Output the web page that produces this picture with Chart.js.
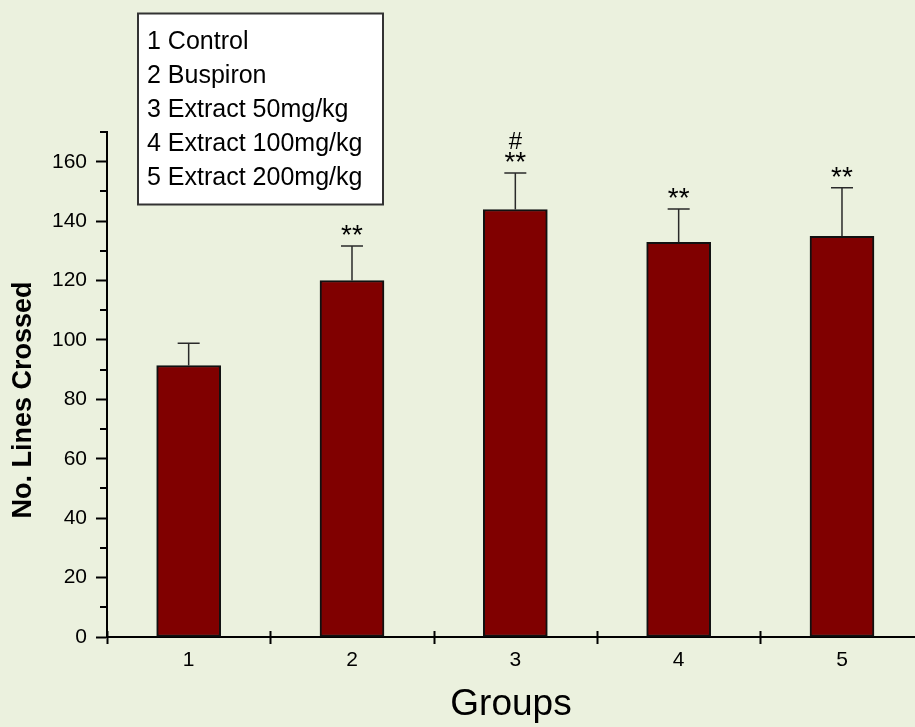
<!DOCTYPE html>
<html>
<head>
<meta charset="utf-8">
<script src="https://cdn.jsdelivr.net/npm/chart.js@4.4.1/dist/chart.umd.min.js"></script>
<style>
html,body{margin:0;padding:0;background:#EBF1DE;overflow:hidden}
#wrap{width:915px;height:727px;position:relative}
</style>
</head>
<body>
<div id="wrap"><canvas id="c" width="915" height="727"></canvas></div>
<script>
// ---- data ----
const groups = [1, 2, 3, 4, 5];
const groupLabels = ['1', '2', '3', '4', '5'];
const means = [91.4, 120.0, 143.9, 132.9, 134.9];
const errors = [7.5, 11.6, 12.3, 11.2, 16.3];
const starMarks = ['', '**', '**', '**', '**'];
const hashMarks = ['', '', '#', '', ''];
const legendLines = ['1 Control', '2 Buspiron', '3 Extract 50mg/kg', '4 Extract 100mg/kg', '5 Extract 200mg/kg'];
const xTickValues = [0.5, 1, 1.5, 2, 2.5, 3, 3.5, 4, 4.5, 5];
const yTickValues = [0, 10, 20, 30, 40, 50, 60, 70, 80, 90, 100, 110, 120, 130, 140, 150, 160, 170];
const yLabelValues = [0, 20, 40, 60, 80, 100, 120, 140, 160];
const xTitle = 'Groups';
const yTitle = 'No. Lines Crossed';

const FONT = '"Liberation Sans", Arial, sans-serif';

const decor = {
  id: 'decor',
  beforeDraw(chart) {
    const ctx = chart.ctx;
    ctx.save();
    ctx.fillStyle = '#EBF1DE';
    ctx.fillRect(0, 0, chart.width, chart.height);
    ctx.restore();
  },
  afterDatasetsDraw(chart) {
    const ctx = chart.ctx;
    const xs = chart.scales.x, ys = chart.scales.y;
    ctx.save();
    groups.forEach((g, i) => {
      const px = xs.getPixelForValue(g);
      const yTop = ys.getPixelForValue(means[i]);
      const yErr = ys.getPixelForValue(means[i] + errors[i]);
      ctx.strokeStyle = '#2a2a2a';
      ctx.lineWidth = 1.5;
      ctx.beginPath();
      ctx.moveTo(px, yTop);
      ctx.lineTo(px, yErr);
      ctx.moveTo(px - 11, yErr);
      ctx.lineTo(px + 11, yErr);
      ctx.stroke();
      ctx.fillStyle = '#000';
      ctx.textAlign = 'center';
      ctx.textBaseline = 'alphabetic';
      ctx.font = '28px ' + FONT;
      if (starMarks[i]) ctx.fillText(starMarks[i], px, yErr - 2);
      ctx.font = '24px ' + FONT;
      if (hashMarks[i]) ctx.fillText(hashMarks[i], px, yErr - 23.5);
    });
    ctx.restore();
  },
  afterDraw(chart) {
    const ctx = chart.ctx;
    const xs = chart.scales.x, ys = chart.scales.y;
    const area = chart.chartArea;
    ctx.save();
    ctx.strokeStyle = '#000';
    ctx.lineWidth = 2;
    // x tick marks crossing the axis
    xTickValues.forEach(v => {
      if (Number.isInteger(v)) return;
      const px = Math.round(xs.getPixelForValue(v)) + 0.5;
      ctx.beginPath();
      ctx.moveTo(px, area.bottom - 6);
      ctx.lineTo(px, area.bottom + 7);
      ctx.stroke();
    });
    // y minor ticks
    yTickValues.forEach(v => {
      if (yLabelValues.includes(v)) return;
      const py = Math.round(ys.getPixelForValue(v));
      ctx.beginPath();
      ctx.moveTo(area.left - 7, py);
      ctx.lineTo(area.left, py);
      ctx.stroke();
    });
    // y title
    ctx.fillStyle = '#000';
    ctx.font = 'bold 27px ' + FONT;
    ctx.textAlign = 'center';
    ctx.textBaseline = 'middle';
    ctx.translate(24, 400);
    ctx.rotate(-Math.PI / 2);
    ctx.fillText(yTitle, 0, 0);
    ctx.restore();

    // legend box
    ctx.save();
    ctx.fillStyle = '#fff';
    ctx.fillRect(137, 13, 246, 192);
    ctx.strokeStyle = '#333';
    ctx.lineWidth = 2;
    ctx.strokeRect(138, 13.5, 245, 191);
    ctx.fillStyle = '#000';
    ctx.font = '25px ' + FONT;
    ctx.textAlign = 'left';
    ctx.textBaseline = 'middle';
    legendLines.forEach((t, k) => ctx.fillText(t, 147, 42 + k * 34));
    ctx.restore();
  }
};

new Chart(document.getElementById('c'), {
  type: 'bar',
  data: {
    datasets: [{
      data: groups.map((g, i) => ({ x: g, y: means[i] })),
      backgroundColor: '#800000',
      borderColor: '#111',
      borderWidth: 2,
      borderSkipped: false,
      barThickness: 64
    }]
  },
  options: {
    responsive: false,
    animation: false,
    events: [],
    layout: { padding: { top: 132, left: 0, right: 0, bottom: 0 } },
    plugins: { legend: { display: false }, tooltip: { enabled: false } },
    scales: {
      x: {
        type: 'linear',
        offset: false,
        min: 0.5,
        max: 5.447,
        afterBuildTicks: s => { s.ticks = xTickValues.map(v => ({ value: v })); },
        afterFit: s => { s.height = 90; },
        ticks: {
          autoSkip: false,
          maxRotation: 0,
          padding: 11,
          color: '#000',
          font: { family: FONT, size: 21 },
          callback: v => Number.isInteger(v) ? groupLabels[v - 1] : ''
        },
        grid: { display: true, offset: false, drawOnChartArea: false, drawTicks: false },
        border: { display: true, color: '#000', width: 2 },
        title: {
          display: true,
          text: xTitle,
          color: '#000',
          font: { family: FONT, size: 37 },
          padding: { top: 0, bottom: 0 }
        }
      },
      y: {
        min: 0,
        max: 170,
        afterBuildTicks: s => { s.ticks = yTickValues.map(v => ({ value: v })); },
        afterFit: s => { s.width = 107; },
        ticks: {
          autoSkip: false,
          padding: 9,
          color: '#000',
          font: { family: FONT, size: 21 },
          callback: v => yLabelValues.includes(v) ? String(v) : ''
        },
        grid: {
          display: true,
          drawOnChartArea: false,
          drawTicks: true,
          tickLength: 11,
          tickWidth: 2,
          tickColor: c => (c.tick && yLabelValues.includes(c.tick.value)) ? '#000' : 'rgba(0,0,0,0)'
        },
        border: { display: true, color: '#000', width: 2 }
      }
    }
  },
  plugins: [decor]
});
</script>
</body>
</html>
